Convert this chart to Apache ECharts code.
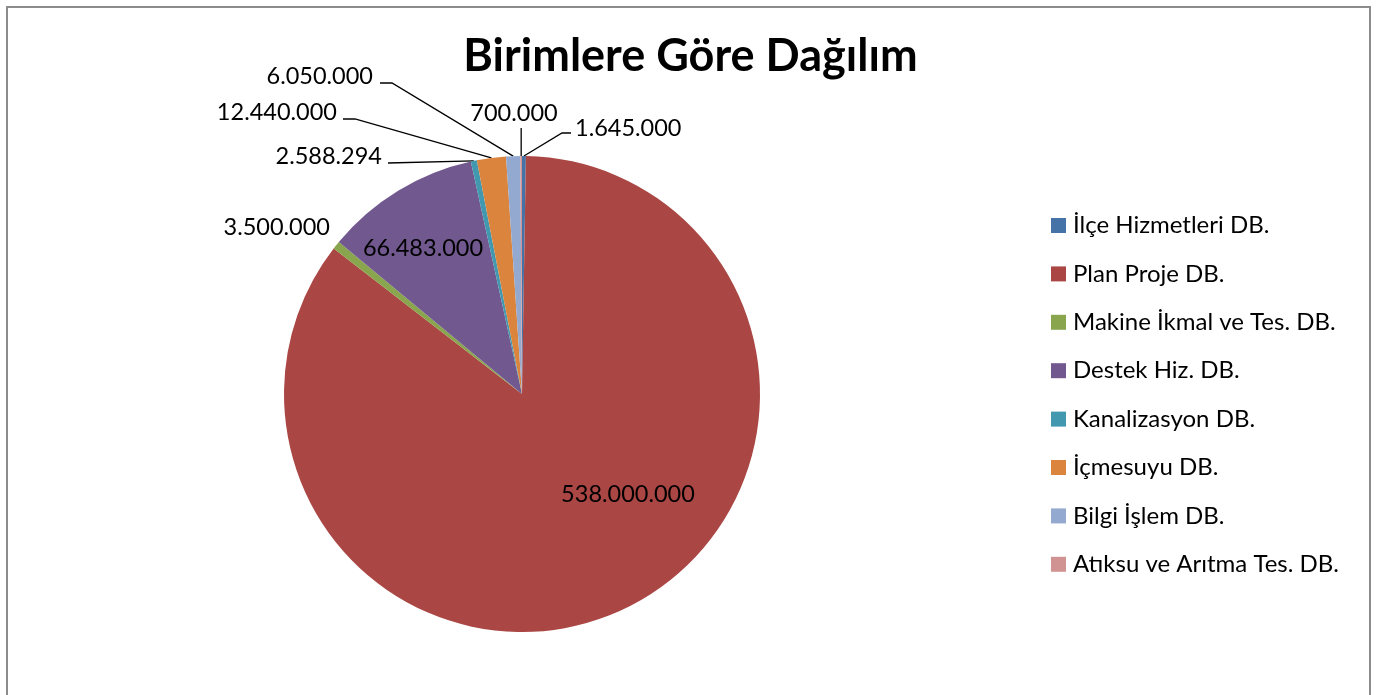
<!DOCTYPE html>
<html><head><meta charset="utf-8">
<script src="https://cdn.jsdelivr.net/npm/echarts@6/dist/echarts.min.js"></script>
<style>html,body{margin:0;padding:0;background:#fff}#c{width:1381px;height:695px}</style>
</head><body><div id="c"></div>
<script>
const categories = ['İlçe Hizmetleri DB.', 'Plan Proje DB.', 'Makine İkmal ve Tes. DB.', 'Destek Hiz. DB.', 'Kanalizasyon DB.', 'İçmesuyu DB.', 'Bilgi İşlem DB.', 'Atıksu ve Arıtma Tes. DB.'];
const values = [1645000, 538000000, 3500000, 66483000, 2588294, 12440000, 6050000, 700000];
const colors = ['#4572A7', '#AA4643', '#89A54E', '#71588F', '#4198AF', '#DB843D', '#93A9CF', '#D19392'];
const titleText = 'Birimlere Göre Dağılım';

function fmt(v) { return String(v).replace(/\B(?=(\d{3})+(?!\d))/g, '.'); }

// label placement (Excel-like manual positions)
const labelPlace = {
  0: { x: 575, y: 128, align: 'left', line: [[562, 133], [571, 133]] },
  1: { x: 628, y: 494, align: 'center' },
  2: { x: 330, y: 227, align: 'right' },
  3: { x: 423, y: 248, align: 'center' },
  4: { x: 382, y: 156, align: 'right', line: [[388, 163]] },
  5: { x: 337, y: 112, align: 'right', line: [[355, 119], [343, 119]] },
  6: { x: 373, y: 76, align: 'right', line: [[392, 83], [380, 83]] },
  7: { x: 514, y: 113, align: 'center', vline: 128 }
};

const FONT = 'Lato, "Open Sans", sans-serif';
const chart = echarts.init(document.getElementById('c'), null, { renderer: 'canvas' });

const data = categories.map((n, i) => {
  const d = { name: n, value: values[i], itemStyle: { color: colors[i] } };
  if (i === 1 || i === 3) { d.label = { position: 'inside' }; d.labelLine = { show: false }; }
  if (i === 2) { d.labelLine = { show: false }; }
  return d;
});

chart.setOption({
  animation: false,
  backgroundColor: '#fff',
  color: colors,
  title: {
    text: titleText, left: 'center', top: 34, padding: 0,
    textStyle: { fontFamily: FONT, fontWeight: 'bold', fontSize: 45, color: '#000' }
  },
  legend: {
    orient: 'vertical', left: 1051, top: 213.5, padding: 0,
    itemWidth: 15, itemHeight: 15, itemGap: 24.4,
    icon: 'rect',
    textStyle: { fontFamily: FONT, fontSize: 24, color: '#000', lineHeight: 24, padding: [0, 0, 0, 2] },
    data: categories
  },
  graphic: [{
    type: 'rect', silent: true, z: -10,
    shape: { x: 7, y: 7, width: 1363, height: 720 },
    style: { fill: 'none', stroke: '#8c8c8c', lineWidth: 2 }
  }],
  series: [{
    type: 'pie',
    center: [522, 394],
    radius: 238,
    startAngle: 90,
    clockwise: true,
    avoidLabelOverlap: false,
    itemStyle: { borderWidth: 0 },
    label: {
      show: true, position: 'outside',
      formatter: p => fmt(p.value),
      fontFamily: FONT, fontSize: 23.5, color: '#000'
    },
    labelLine: { show: true, length: 10, length2: 10, lineStyle: { color: '#000', width: 1.3 } },
    labelLayout: function (params) {
      const pl = labelPlace[params.dataIndex];
      if (!pl) return {};
      const out = { x: pl.x, y: pl.y, align: pl.align, verticalAlign: 'middle' };
      const pts = params.labelLinePoints;
      if (pts && pts.length) {
        const edge = pts[0];
        if (pl.line) out.labelLinePoints = [edge].concat(pl.line);
        else if (pl.vline) out.labelLinePoints = [edge, [edge[0], pl.vline]];
      }
      return out;
    },
    emphasis: { disabled: true },
    data: data
  }]
});
</script></body></html>
